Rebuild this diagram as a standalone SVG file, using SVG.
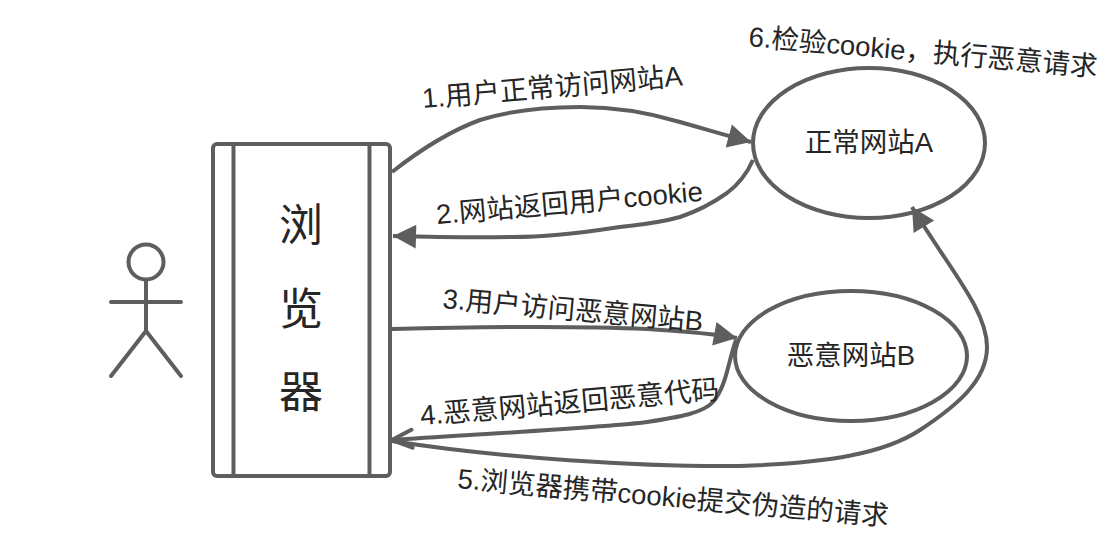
<svg xmlns="http://www.w3.org/2000/svg" width="1117" height="554" viewBox="0 0 1117 554">
<style>
.s{fill:none;stroke:#5e5e5e;stroke-width:4;stroke-linejoin:round;stroke-linecap:round}
.t{font-family:"Liberation Sans","Noto Sans CJK SC",sans-serif;font-size:27.5px;fill:#262626}
.b{font-size:44px;text-anchor:middle}
.c{stroke-linecap:butt}
</style>
<defs>
<marker id="a" markerUnits="userSpaceOnUse" markerWidth="28" markerHeight="28" refX="24" refY="13" orient="auto"><path d="M1 1L24 13L1 25Z" fill="#5e5e5e"/></marker>
<marker id="o" markerUnits="userSpaceOnUse" markerWidth="26" markerHeight="26" refX="23" refY="12" orient="auto"><path d="M3 3L23 12L3 21" fill="none" stroke="#5e5e5e" stroke-width="4" stroke-linecap="round"/></marker>
</defs>
<rect width="1117" height="554" fill="#fff"/>
<g id="actor">
<circle class="s" cx="146" cy="262" r="17.500"/>
<path class="s" d="M146 280V331M111 302H181M146 331L111 376M146 331L181 376"/>
</g>
<g id="browser">
<rect class="s" x="213" y="144" width="177" height="332" rx="4"/>
<path class="s" d="M233.500 144V476M369.500 144V476"/>
<text class="t b" x="301" y="241">浏</text>
<text class="t b" x="301" y="325">览</text>
<text class="t b" x="301" y="408">器</text>
</g>
<g id="siteA">
<ellipse class="s" cx="869" cy="143" rx="116" ry="75"/>
<text class="t" x="869" y="152" text-anchor="middle">正常网站A</text>
</g>
<g id="siteB">
<ellipse class="s" cx="851" cy="356" rx="116" ry="65"/>
<text class="t" x="851" y="365" text-anchor="middle">恶意网站B</text>
</g>
<g id="connectors">
<path class="s c" marker-end="url(#a)" d="M392 172C420 150 450 131 480 120C512 110 545 107 580 107C615 107 650 113 680 122C705 129 725 135 751 142"/>
<path class="s c" marker-end="url(#a)" d="M753 160C745 178 735 187 727 193C710 205 695 212 680 217C655 224 635 225 613 228C580 233 550 237 513 237C470 238 430 237 393 236"/>
<path class="s c" marker-end="url(#a)" d="M392 329C470 327 560 325 647 329C680 331 710 333 737 338"/>
<path class="s c" marker-end="url(#o)" d="M736 340C728 362 727 385 713 402C703 413 680 417 647 422C610 427 500 433 392 440"/>
<path class="s c" marker-end="url(#a)" d="M392 441C500 458 640 467 740 466C830 463 885 453 920 430C958 405 987 380 987 347C987 310 950 270 912 207"/>
</g>
<g id="labels">
<text class="t" transform="translate(423 108) rotate(-5)">1.用户正常访问网站A</text>
<text class="t" transform="translate(437 224) rotate(-5)">2.网站返回用户cookie</text>
<text class="t" transform="translate(442 308) rotate(5)">3.用户访问恶意网站B</text>
<text class="t" style="font-size:27.700px" transform="translate(421 425) rotate(-5)">4.恶意网站返回恶意代码</text>
<text class="t" transform="translate(457 488) rotate(5)">5.浏览器携带cookie提交伪造的请求</text>
<text class="t" transform="translate(748 46) rotate(5)">6.检验cookie，执行恶意请求</text>
</g>
</svg>
